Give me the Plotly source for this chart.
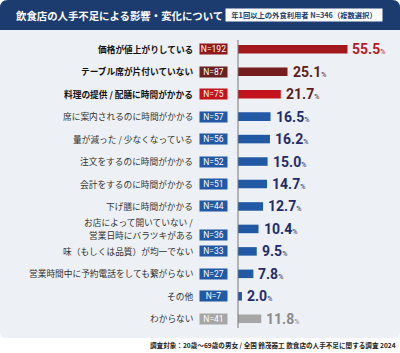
import plotly.graph_objects as go

categories = [
    "価格が値上がりしている",
    "テーブル席が片付いていない",
    "料理の提供 / 配膳に時間がかかる",
    "席に案内されるのに時間がかかる",
    "量が減った / 少なくなっている",
    "注文をするのに時間がかかる",
    "会計をするのに時間がかかる",
    "下げ膳に時間がかかる",
    "お店によって開いていない /|営業日時にバラツキがある",
    "味（もしくは品質）が均一でない",
    "営業時間中に予約電話をしても繋がらない",
    "その他",
    "わからない",
]
values = [55.5, 25.1, 21.7, 16.5, 16.2, 15.0, 14.7, 12.7, 10.4, 9.5, 7.8, 2.0, 11.8]
counts = [192, 87, 75, 57, 56, 52, 51, 44, 36, 33, 27, 7, 41]

bar_colors = ["#a2181d", "#761d1d", "#c3141d"] + ["#2159a5"] * 9 + ["#a6a6a6"]
badge_colors = ["#8e1a1c", "#6a2020", "#c3141d"] + ["#2159a5"] * 9 + ["#a6a6a6"]
value_colors = ["#b51d25", "#5c1e1e", "#5c1e1e"] + ["#1f2d6b"] * 9 + ["#8a8a8a"]
bold_rows = 3

W, H = 400, 353
ML, MR, MT, MB = 238, 20, 38, 23
PW, PH = W - ML - MR, H - MT - MB


def px(x):
    return (x - ML) / PW


def py(y):
    return (H - MB - y) / PH


fig = go.Figure()
fig.add_trace(go.Bar(
    y=categories, x=values, orientation="h",
    marker=dict(color=bar_colors, line=dict(width=0)),
    width=0.38, hoverinfo="skip",
))

ann = []
for i, (c, v, n) in enumerate(zip(categories, values, counts)):
    b = i < bold_rows
    lines = c.split("|")
    k = len(lines)
    for j, line in enumerate(lines):
        ann.append(dict(
            x=0, y=c, xref="paper", yref="y", xanchor="right", yanchor="middle",
            xshift=-43, yshift=(k - 1) * 6.5 - j * 13, text=line,
            showarrow=False, align="right",
            font=dict(family="Noto Sans CJK JP", size=8.7,
                      color="#111111" if b else "#333333",
                      weight="bold" if b else "normal"),
        ))
    ann.append(dict(
        x=0, y=c, xref="paper", yref="y", xanchor="right", yanchor="middle",
        xshift=-10, yshift=-6 if k > 1 else 0,
        text=f"N={n}", showarrow=False, bgcolor=badge_colors[i],
        width=27, height=10, borderpad=0,
        font=dict(family="Liberation Sans Narrow, Roboto", size=8.5, color="white"),
    ))
    ann.append(dict(
        x=v, y=c, xref="x", yref="y", xanchor="left", yanchor="middle",
        xshift=3, showarrow=False,
        text=f"<b>{v:.1f}</b><span style='font-size:7px'>%</span>",
        font=dict(family="Liberation Sans Narrow, Roboto", size=14, color=value_colors[i]),
    ))

ann.append(dict(
    x=px(14), y=py(15), xref="paper", yref="paper", xanchor="left", yanchor="middle",
    text="<b>飲食店の人手不足による影響・変化について</b>", showarrow=False,
    font=dict(family="Noto Sans CJK JP", size=10.4, color="white"),
))
ann.append(dict(
    x=px(304), y=py(15), xref="paper", yref="paper", xanchor="center", yanchor="middle",
    text="<b>年1回以上の外食利用者 N=346（複数選択）</b>", showarrow=False,
    bgcolor="white", width=156, height=12, borderpad=0,
    font=dict(family="Noto Sans CJK JP", size=7.3, color="#1c3b6e"),
))
ann.append(dict(
    x=px(398), y=py(345), xref="paper", yref="paper", xanchor="right", yanchor="middle",
    text="<b>調査対象：20歳～69歳の男女 / 全国 鈴茂器工 飲食店の人手不足に関する調査 2024</b>",
    showarrow=False,
    font=dict(family="Noto Sans CJK JP", size=6.6, color="#222222"),
))

r = 8
title_path = (f"M {px(0)},{py(30)} L {px(0)},{py(r)} Q {px(0)},{py(0)} {px(r)},{py(0)} "
              f"L {px(W - r)},{py(0)} Q {px(W)},{py(0)} {px(W)},{py(r)} L {px(W)},{py(30)} Z")
r2 = 6
panel_path = (f"M {px(0)},{py(30)} L {px(W)},{py(30)} L {px(W)},{py(338 - r2)} "
              f"Q {px(W)},{py(338)} {px(W - r2)},{py(338)} L {px(r2)},{py(338)} "
              f"Q {px(0)},{py(338)} {px(0)},{py(338 - r2)} Z")
shapes = [
    dict(type="path", path=panel_path, xref="paper", yref="paper",
         fillcolor="#edf0f4", line=dict(width=0), layer="below"),
    dict(type="path", path=title_path, xref="paper", yref="paper",
         fillcolor="#1c3b6e", line=dict(width=0), layer="below"),
    dict(type="line", x0=0, x1=0, y0=py(40), y1=py(328), xref="paper", yref="paper",
         line=dict(color="#777777", width=1)),
]

fig.update_layout(
    width=W, height=H,
    margin=dict(l=ML, r=MR, t=MT, b=MB),
    paper_bgcolor="white", plot_bgcolor="rgba(0,0,0,0)",
    showlegend=False,
    xaxis=dict(range=[0, 72], visible=False, fixedrange=True),
    yaxis=dict(autorange="reversed", showticklabels=False, showgrid=False,
               zeroline=False, showline=False, ticks="", fixedrange=True),
    annotations=ann, shapes=shapes,
    bargap=0.6,
)

fig.write_html("out.html")
